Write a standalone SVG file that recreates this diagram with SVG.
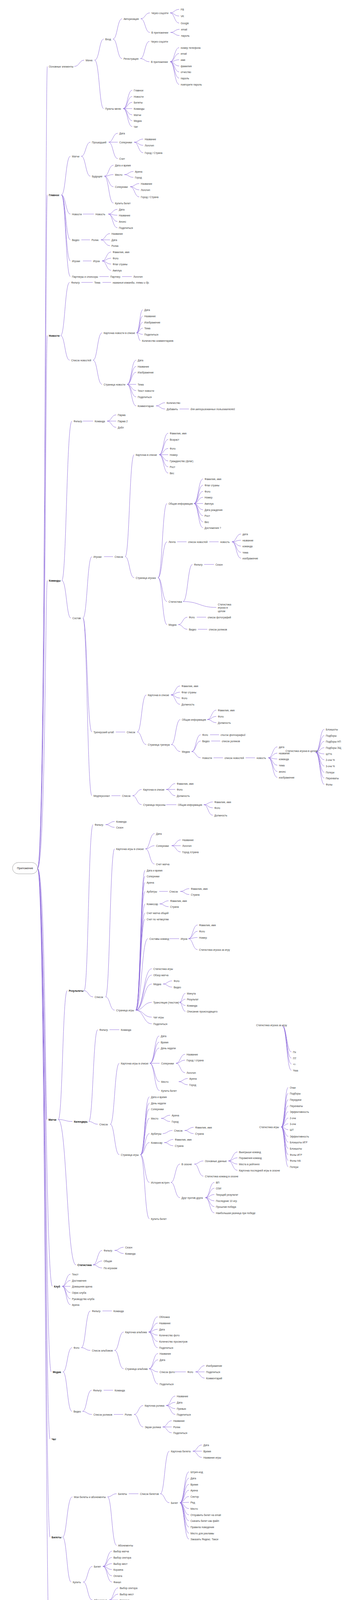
<svg xmlns="http://www.w3.org/2000/svg" width="900" height="4441" viewBox="0 0 900 4441">
<style>
text{font-family:"Liberation Sans",Arial,sans-serif;font-size:6.5px;fill:#3a3a3a;dominant-baseline:central}
.b{font-weight:bold;fill:#111}
.i{font-style:italic}
.r{font-size:7px;fill:#222}
#connectors path{fill:none;stroke:#8c69db;stroke-width:0.9}
.root{fill:#fff;stroke:#8a8a8a;stroke-width:0.8}
</style>
<rect width="900" height="4441" fill="#fff"/>
<g id="connectors">
<path d="M96 2223C116 2223 116 170 121 170"/><path d="M96 2223C116 2223 116 499 121 499"/><path d="M96 2223C116 2223 116 859 121 859"/><path d="M96 2223C116 2223 116 1486 121 1486"/><path d="M96 2223C116 2223 116 2866 120 2866"/><path d="M96 2223C116 2223 116 3293 134 3293"/><path d="M96 2223C116 2223 116 3512 131 3512"/><path d="M96 2223C116 2223 116 3684 128 3684"/><path d="M96 2223C116 2223 116 3935 128 3935"/><path d="M96 2223C116 2223 116 4260 128 4260"/>
<path d="M190 170C203 170 203 154 215 154"/>
<path d="M242 154C254 154 254 100 265 100"/><path d="M242 154C254 154 254 278 265 278"/>
<path d="M289 100C300 100 300 48 312 48"/><path d="M289 100C300 100 300 150 312 150"/>
<path d="M360 48C371 48 371 33 383 33"/><path d="M360 48C371 48 371 83 383 83"/>
<path d="M435 33C446 33 446 24 458 24"/><path d="M435 33C446 33 446 41 458 41"/><path d="M435 33C446 33 446 59 458 59"/>
<path d="M436 83C447 83 447 75 459 75"/><path d="M436 83C447 83 447 91 459 91"/>
<path d="M359 150C370 150 370 106 382 106"/><path d="M359 150C370 150 370 158 382 158"/>
<path d="M435 158C446 158 446 122 458 122"/><path d="M435 158C446 158 446 137 458 137"/><path d="M435 158C446 158 446 153 458 153"/><path d="M435 158C446 158 446 169 458 169"/><path d="M435 158C446 158 446 184 458 184"/><path d="M435 158C446 158 446 200 458 200"/><path d="M435 158C446 158 446 216 458 216"/>
<path d="M315 278C326 278 326 231 338 231"/><path d="M315 278C326 278 326 247 338 247"/><path d="M315 278C326 278 326 262 338 262"/><path d="M315 278C326 278 326 278 338 278"/><path d="M315 278C326 278 326 294 338 294"/><path d="M315 278C326 278 326 309 338 309"/><path d="M315 278C326 278 326 324 338 324"/>
<path d="M157 499C168 499 168 400 180 400"/><path d="M157 499C168 499 168 548 180 548"/><path d="M157 499C168 499 168 614 180 614"/><path d="M157 499C168 499 168 668 180 668"/><path d="M157 499C168 499 168 708 180 708"/>
<path d="M208 400C219 400 219 364 231 364"/><path d="M208 400C219 400 219 451 231 451"/>
<path d="M278 364C289 364 289 341 301 341"/><path d="M278 364C289 364 289 364 301 364"/><path d="M278 364C289 364 289 406 301 406"/>
<path d="M343 364C354 364 354 356 366 356"/><path d="M343 364C354 364 354 372 366 372"/><path d="M343 364C354 364 354 391 366 391"/>
<path d="M267 451C278 451 278 423 290 423"/><path d="M267 451C278 451 278 447 290 447"/><path d="M267 451C278 451 278 478 290 478"/><path d="M267 451C278 451 278 520 290 520"/>
<path d="M318 447C329 447 329 439 341 439"/><path d="M318 447C329 447 329 454 341 454"/>
<path d="M333 478C344 478 344 470 356 470"/><path d="M333 478C344 478 344 486 356 486"/><path d="M333 478C344 478 344 504 356 504"/>
<path d="M212 548H240"/>
<path d="M277 548C288 548 288 536 300 536"/><path d="M277 548C288 548 288 551 300 551"/><path d="M277 548C288 548 288 567 300 567"/><path d="M277 548C288 548 288 583 300 583"/>
<path d="M208 614H230"/>
<path d="M258 614C269 614 269 598 281 598"/><path d="M258 614C269 614 269 614 281 614"/><path d="M258 614C269 614 269 629 281 629"/>
<path d="M212 668H234"/>
<path d="M261 668C272 668 272 645 284 645"/><path d="M261 668C272 668 272 661 284 661"/><path d="M261 668C272 668 272 676 284 676"/><path d="M261 668C272 668 272 692 284 692"/>
<path d="M254 708H278"/><path d="M312 708H337"/>
<path d="M155 859C166 859 166 723 178 723"/><path d="M155 859C166 859 166 922 178 922"/>
<path d="M208 723H237"/><path d="M262 723H284"/>
<path d="M238 922C249 922 249 852 261 852"/><path d="M238 922C249 922 249 984 261 984"/>
<path d="M349 852C357 852 357 793 365 793"/><path d="M349 852C357 852 357 809 365 809"/><path d="M349 852C357 852 357 825 365 825"/><path d="M349 852C357 852 357 840 365 840"/><path d="M349 852C357 852 357 856 365 856"/><path d="M349 852C354 852 354 872 359 872"/>
<path d="M325 984C336 984 336 922 348 922"/><path d="M325 984C336 984 336 938 348 938"/><path d="M325 984C336 984 336 953 348 953"/><path d="M325 984C336 984 336 984 348 984"/><path d="M325 984C336 984 336 1000 348 1000"/><path d="M325 984C336 984 336 1016 348 1016"/><path d="M325 984C336 984 336 1039 348 1039"/>
<path d="M399 1039C410 1039 410 1031 422 1031"/><path d="M399 1039C410 1039 410 1047 422 1047"/>
<path d="M459 1047H483"/>
<path d="M158 1486C170 1486 170 1078 184 1078"/><path d="M158 1486C170 1486 170 1582 181 1582"/>
<path d="M212 1078H238"/>
<path d="M274 1078C285 1078 285 1062 297 1062"/><path d="M274 1078C285 1078 285 1078 297 1078"/><path d="M274 1078C285 1078 285 1094 297 1094"/>
<path d="M212 1582C223 1582 223 1425 235 1425"/><path d="M212 1582C223 1582 223 1874 235 1874"/><path d="M212 1582C223 1582 223 2037 235 2037"/>
<path d="M266 1425H289"/>
<path d="M320 1425C331 1425 331 1164 343 1164"/><path d="M320 1425C331 1425 331 1479 343 1479"/>
<path d="M407 1164C418 1164 418 1109 430 1109"/><path d="M407 1164C418 1164 418 1125 430 1125"/><path d="M407 1164C418 1164 418 1148 430 1148"/><path d="M407 1164C418 1164 418 1164 430 1164"/><path d="M407 1164C418 1164 418 1180 430 1180"/><path d="M407 1164C418 1164 418 1195 430 1195"/><path d="M407 1164C418 1164 418 1211 430 1211"/>
<path d="M404 1479C415 1479 415 1289 427 1289"/><path d="M404 1479C415 1479 415 1387 427 1387"/><path d="M404 1479C415 1479 415 1540 427 1540"/><path d="M404 1479C415 1479 415 1599 427 1599"/>
<path d="M496 1289C507 1289 507 1226 519 1226"/><path d="M496 1289C507 1289 507 1242 519 1242"/><path d="M496 1289C507 1289 507 1258 519 1258"/><path d="M496 1289C507 1289 507 1273 519 1273"/><path d="M496 1289C507 1289 507 1289 519 1289"/><path d="M496 1289C507 1289 507 1305 519 1305"/><path d="M496 1289C507 1289 507 1320 519 1320"/><path d="M496 1289C507 1289 507 1336 519 1336"/><path d="M496 1289C507 1289 507 1351 519 1351"/>
<path d="M453 1387H477"/><path d="M535 1387H559"/>
<path d="M593 1387C604 1387 604 1367 616 1367"/><path d="M593 1387C604 1387 604 1383 616 1383"/><path d="M593 1387C604 1387 604 1398 616 1398"/><path d="M593 1387C604 1387 604 1414 616 1414"/><path d="M593 1387C604 1387 604 1429 616 1429"/>
<path d="M468 1540C480 1540 480 1445 492 1445"/><path d="M468 1540C510 1540 510 1555 553 1555"/>
<path d="M522 1445H547"/>
<path d="M456 1599C467 1599 467 1580 479 1580"/><path d="M456 1599C467 1599 467 1611 479 1611"/>
<path d="M503 1580H527"/><path d="M506 1611H530"/>
<path d="M296 1874H320"/>
<path d="M351 1874C362 1874 362 1779 374 1779"/><path d="M351 1874C362 1874 362 1906 374 1906"/>
<path d="M437 1779C448 1779 448 1756 460 1756"/><path d="M437 1779C448 1779 448 1772 460 1772"/><path d="M437 1779C448 1779 448 1787 460 1787"/><path d="M437 1779C448 1779 448 1803 460 1803"/>
<path d="M438 1906C449 1906 449 1842 461 1842"/><path d="M438 1906C449 1906 449 1924 461 1924"/>
<path d="M530 1842C541 1842 541 1818 553 1818"/><path d="M530 1842C541 1842 541 1834 553 1834"/><path d="M530 1842C541 1842 541 1850 553 1850"/>
<path d="M490 1924C501 1924 501 1881 513 1881"/><path d="M490 1924C501 1924 501 1897 513 1897"/><path d="M490 1924C501 1924 501 1940 513 1940"/>
<path d="M537 1881H560"/><path d="M540 1897H563"/><path d="M546 1940H570"/><path d="M628 1940H652"/>
<path d="M686 1940C697 1940 697 1912 709 1912"/><path d="M686 1940C697 1940 697 1928 709 1928"/><path d="M686 1940C697 1940 697 1943 709 1943"/><path d="M686 1940C697 1940 697 1959 709 1959"/><path d="M686 1940C697 1940 697 1975 709 1975"/><path d="M686 1940C697 1940 697 1990 709 1990"/>
<path d="M807 1926C818 1926 818 1867 829 1867"/><path d="M807 1926C818 1926 818 1883 829 1883"/><path d="M807 1926C818 1926 818 1898 829 1898"/><path d="M807 1926C818 1926 818 1914 829 1914"/><path d="M807 1926C818 1926 818 1930 829 1930"/><path d="M807 1926C818 1926 818 1945 829 1945"/><path d="M807 1926C818 1926 818 1961 829 1961"/><path d="M807 1926C818 1926 818 1977 829 1977"/><path d="M807 1926C818 1926 818 1992 829 1992"/><path d="M807 1926C818 1926 818 2008 829 2008"/>
<path d="M285 2037H308"/>
<path d="M339 2037C350 2037 350 2021 362 2021"/><path d="M339 2037C350 2037 350 2060 362 2060"/>
<path d="M425 2021C436 2021 436 2006 448 2006"/><path d="M425 2021C436 2021 436 2021 448 2021"/><path d="M425 2021C436 2021 436 2037 448 2037"/>
<path d="M425 2060H451"/>
<path d="M521 2060C532 2060 532 2053 544 2053"/><path d="M521 2060C532 2060 532 2068 544 2068"/><path d="M521 2060C532 2060 532 2087 544 2087"/>
<path d="M149 2866C160 2866 160 2536 172 2536"/><path d="M149 2866C167 2866 167 2871 185 2871"/><path d="M149 2866C171 2866 171 3238 194 3238"/>
<path d="M215 2536C226 2536 226 2111 238 2111"/><path d="M215 2536C226 2536 226 2552 238 2552"/>
<path d="M270 2111C281 2111 281 2103 293 2103"/><path d="M270 2111C281 2111 281 2118 293 2118"/>
<path d="M270 2552C281 2552 281 2173 293 2173"/><path d="M270 2552C281 2552 281 2586 293 2586"/>
<path d="M372 2173C383 2173 383 2134 395 2134"/><path d="M372 2173C383 2173 383 2165 395 2165"/><path d="M372 2173C383 2173 383 2212 395 2212"/>
<path d="M439 2165C450 2165 450 2150 462 2150"/><path d="M439 2165C450 2165 450 2165 462 2165"/><path d="M439 2165C450 2165 450 2181 462 2181"/>
<path d="M347 2586C359 2586 359 2228 371 2228"/><path d="M347 2586C359 2586 359 2243 371 2243"/><path d="M347 2586C359 2586 359 2259 371 2259"/><path d="M347 2586C359 2586 359 2282 371 2282"/><path d="M347 2586C359 2586 359 2314 371 2314"/><path d="M347 2586C359 2586 359 2337 371 2337"/><path d="M347 2586C359 2586 359 2353 371 2353"/><path d="M347 2586C362 2586 362 2403 378 2403"/><path d="M347 2586C367 2586 367 2480 388 2480"/><path d="M347 2586C367 2586 367 2496 388 2496"/><path d="M347 2586C367 2586 367 2519 388 2519"/><path d="M347 2586C367 2586 367 2566 388 2566"/><path d="M347 2586C367 2586 367 2604 388 2604"/><path d="M347 2586C367 2586 367 2621 388 2621"/>
<path d="M407 2282H429"/>
<path d="M461 2282C472 2282 472 2275 484 2275"/><path d="M461 2282C472 2282 472 2290 484 2290"/>
<path d="M408 2314C419 2314 419 2306 431 2306"/><path d="M408 2314C419 2314 419 2321 431 2321"/>
<path d="M433 2403H458"/>
<path d="M482 2403C493 2403 493 2368 505 2368"/><path d="M482 2403C493 2403 493 2384 505 2384"/><path d="M482 2403C493 2403 493 2400 505 2400"/><path d="M482 2403C493 2403 493 2431 505 2431"/>
<path d="M417 2519C428 2519 428 2511 440 2511"/><path d="M417 2519C428 2519 428 2527 440 2527"/>
<path d="M459 2566C466 2566 466 2543 474 2543"/><path d="M459 2566C466 2566 466 2558 474 2558"/><path d="M459 2566C466 2566 466 2574 474 2574"/><path d="M459 2566C466 2566 466 2589 474 2589"/>
<path d="M722 2626C733 2626 733 2693 745 2693"/><path d="M722 2626C733 2626 733 2709 745 2709"/><path d="M722 2626C733 2626 733 2724 745 2724"/><path d="M722 2626C733 2626 733 2740 745 2740"/>
<path d="M719 2885C728 2885 728 2784 737 2784"/><path d="M719 2885C728 2885 728 2799 737 2799"/><path d="M719 2885C728 2885 728 2815 737 2815"/><path d="M719 2885C728 2885 728 2831 737 2831"/><path d="M719 2885C728 2885 728 2846 737 2846"/><path d="M719 2885C728 2885 728 2862 737 2862"/><path d="M719 2885C728 2885 728 2877 737 2877"/><path d="M719 2885C728 2885 728 2892 737 2892"/><path d="M719 2885C728 2885 728 2909 737 2909"/><path d="M719 2885C728 2885 728 2924 737 2924"/><path d="M719 2885C728 2885 728 2940 737 2940"/><path d="M719 2885C728 2885 728 2956 737 2956"/><path d="M719 2885C728 2885 728 2971 737 2971"/><path d="M719 2885C728 2885 728 2987 737 2987"/>
<path d="M227 2871C238 2871 238 2636 250 2636"/><path d="M227 2871C238 2871 238 2878 250 2878"/>
<path d="M280 2636H305"/>
<path d="M282 2878C293 2878 293 2722 305 2722"/><path d="M282 2878C293 2878 293 2956 305 2956"/>
<path d="M383 2722C395 2722 395 2652 407 2652"/><path d="M383 2722C395 2722 395 2668 407 2668"/><path d="M383 2722C395 2722 395 2683 407 2683"/><path d="M383 2722C395 2722 395 2722 408 2722"/><path d="M383 2722C395 2722 395 2769 408 2769"/><path d="M383 2722C395 2722 395 2792 408 2792"/>
<path d="M450 2722C461 2722 461 2699 473 2699"/><path d="M450 2722C461 2722 461 2714 473 2714"/><path d="M450 2722C461 2722 461 2746 473 2746"/>
<path d="M457 2769C468 2769 468 2761 480 2761"/><path d="M457 2769C468 2769 468 2777 480 2777"/>
<path d="M359 2956C370 2956 370 2808 382 2808"/><path d="M359 2956C370 2956 370 2824 382 2824"/><path d="M359 2956C370 2956 370 2839 382 2839"/><path d="M359 2956C370 2956 370 2863 382 2863"/><path d="M359 2956C370 2956 370 2902 382 2902"/><path d="M359 2956C370 2956 370 2925 382 2925"/><path d="M359 2956C370 2956 370 3027 382 3027"/><path d="M359 2956C370 2956 370 3120 382 3120"/>
<path d="M412 2863C423 2863 423 2855 435 2855"/><path d="M412 2863C423 2863 423 2871 435 2871"/>
<path d="M416 2902C428 2902 428 2894 441 2894"/>
<path d="M472 2894C483 2894 483 2886 495 2886"/><path d="M472 2894C483 2894 483 2902 495 2902"/>
<path d="M420 2925C431 2925 431 2917 443 2917"/><path d="M420 2925C431 2925 431 2933 443 2933"/>
<path d="M437 3027C448 3027 448 2980 460 2980"/><path d="M437 3027C448 3027 448 3066 460 3066"/>
<path d="M497 2980C508 2980 508 2972 520 2972"/><path d="M497 2980C508 2980 508 3011 520 3011"/>
<path d="M584 2972C595 2972 595 2949 607 2949"/><path d="M584 2972C595 2972 595 2964 607 2964"/><path d="M584 2972C595 2972 595 2980 607 2980"/><path d="M584 2972C595 2972 595 2996 607 2996"/>
<path d="M525 3066C536 3066 536 3027 548 3027"/><path d="M525 3066C536 3066 536 3042 548 3042"/><path d="M525 3066C536 3066 536 3058 548 3058"/><path d="M525 3066C536 3066 536 3074 548 3074"/><path d="M525 3066C536 3066 536 3089 548 3089"/><path d="M525 3066C536 3066 536 3105 548 3105"/>
<path d="M238 3238C249 3238 249 3201 261 3201"/><path d="M238 3238C249 3238 249 3228 261 3228"/><path d="M238 3238C249 3238 249 3246 261 3246"/>
<path d="M293 3201C304 3201 304 3193 316 3193"/><path d="M293 3201C304 3201 304 3209 316 3209"/>
<path d="M159 3293C169 3293 169 3262 180 3262"/><path d="M159 3293C169 3293 169 3278 180 3278"/><path d="M159 3293C169 3293 169 3293 180 3293"/><path d="M159 3293C169 3293 169 3309 180 3309"/><path d="M159 3293C169 3293 169 3325 180 3325"/><path d="M159 3293C169 3293 169 3340 180 3340"/>
<path d="M161 3512C172 3512 172 3450 184 3450"/><path d="M161 3512C172 3512 172 3613 184 3613"/>
<path d="M208 3450C219 3450 219 3356 231 3356"/><path d="M208 3450C219 3450 219 3457 231 3457"/>
<path d="M262 3356H286"/>
<path d="M293 3457C304 3457 304 3410 316 3410"/><path d="M293 3457C304 3457 304 3504 316 3504"/>
<path d="M380 3410C391 3410 391 3371 403 3371"/><path d="M380 3410C391 3410 391 3387 403 3387"/><path d="M380 3410C391 3410 391 3403 403 3403"/><path d="M380 3410C391 3410 391 3418 403 3418"/><path d="M380 3410C391 3410 391 3434 403 3434"/><path d="M380 3410C391 3410 391 3450 403 3450"/>
<path d="M381 3504C392 3504 392 3465 404 3465"/><path d="M381 3504C392 3504 392 3481 404 3481"/><path d="M381 3504C392 3504 392 3512 404 3512"/><path d="M381 3504C392 3504 392 3543 404 3543"/>
<path d="M447 3512H475"/>
<path d="M500 3512C511 3512 511 3496 523 3496"/><path d="M500 3512C511 3512 511 3512 523 3512"/><path d="M500 3512C511 3512 511 3528 523 3528"/>
<path d="M211 3613C222 3613 222 3559 234 3559"/><path d="M211 3613C222 3613 222 3621 235 3621"/>
<path d="M265 3559H289"/><path d="M291 3621H315"/>
<path d="M343 3621C354 3621 354 3598 366 3598"/><path d="M343 3621C354 3621 354 3653 366 3653"/>
<path d="M425 3598C436 3598 436 3574 448 3574"/><path d="M425 3598C436 3598 436 3590 448 3590"/><path d="M425 3598C436 3598 436 3606 448 3606"/><path d="M425 3598C436 3598 436 3621 448 3621"/>
<path d="M416 3653C427 3653 427 3637 439 3637"/><path d="M416 3653C427 3653 427 3653 439 3653"/><path d="M416 3653C427 3653 427 3668 439 3668"/>
<path d="M160 3935C171 3935 171 3832 185 3832"/><path d="M160 3935C171 3935 171 4050 182 4050"/>
<path d="M275 3832C286 3832 286 3824 298 3824"/><path d="M275 3832C286 3832 286 3956 298 3956"/>
<path d="M329 3824H354"/>
<path d="M410 3824C421 3824 421 3715 433 3715"/><path d="M410 3824C421 3824 421 3847 433 3847"/>
<path d="M493 3715C504 3715 504 3699 516 3699"/><path d="M493 3715C504 3715 504 3715 516 3715"/><path d="M493 3715C504 3715 504 3731 516 3731"/>
<path d="M460 3847C471 3847 471 3768 483 3768"/><path d="M460 3847C471 3847 471 3784 483 3784"/><path d="M460 3847C471 3847 471 3800 483 3800"/><path d="M460 3847C471 3847 471 3815 483 3815"/><path d="M460 3847C471 3847 471 3831 483 3831"/><path d="M460 3847C471 3847 471 3846 483 3846"/><path d="M460 3847C471 3847 471 3862 483 3862"/><path d="M460 3847C471 3847 471 3878 483 3878"/><path d="M460 3847C471 3847 471 3893 483 3893"/><path d="M460 3847C471 3847 471 3909 483 3909"/><path d="M460 3847C471 3847 471 3925 483 3925"/><path d="M460 3847C471 3847 471 3940 483 3940"/>
<path d="M213 4050C224 4050 224 4010 236 4010"/><path d="M213 4050C224 4050 224 4096 236 4096"/>
<path d="M263 4010C274 4010 274 3971 286 3971"/><path d="M263 4010C274 4010 274 3987 286 3987"/><path d="M263 4010C274 4010 274 4003 286 4003"/><path d="M263 4010C274 4010 274 4018 286 4018"/><path d="M263 4010C274 4010 274 4034 286 4034"/><path d="M263 4010C274 4010 274 4050 286 4050"/>
<path d="M279 4096C290 4096 290 4065 302 4065"/><path d="M279 4096C290 4096 290 4081 302 4081"/><path d="M279 4096C290 4096 290 4096 302 4096"/><path d="M279 4096C290 4096 290 4112 302 4112"/><path d="M279 4096C290 4096 290 4128 302 4128"/>
<path d="M169 4260C180 4260 180 4190 192 4190"/><path d="M169 4260C180 4260 180 4315 192 4315"/>
<path d="M242 4190C253 4190 253 4143 265 4143"/><path d="M242 4190C253 4190 253 4159 265 4159"/><path d="M242 4190C253 4190 253 4174 265 4174"/><path d="M242 4190C253 4190 253 4190 265 4190"/><path d="M242 4190C253 4190 253 4206 265 4206"/><path d="M242 4190C253 4190 253 4221 265 4221"/><path d="M242 4190C253 4190 253 4237 265 4237"/>
<path d="M229 4315C240 4315 240 4253 252 4253"/><path d="M229 4315C240 4315 240 4268 252 4268"/><path d="M229 4315C240 4315 240 4284 252 4284"/><path d="M229 4315C240 4315 240 4299 252 4299"/><path d="M229 4315C240 4315 240 4315 252 4315"/><path d="M229 4315C240 4315 240 4331 252 4331"/><path d="M229 4315C240 4315 240 4354 252 4354"/><path d="M229 4315C240 4315 240 4377 252 4377"/>
<path d="M273 4354C284 4354 284 4346 296 4346"/><path d="M273 4354C284 4354 284 4362 296 4362"/>
</g>
<g id="n-root"><rect class="root" x="32" y="2208" width="64" height="29" rx="14.5"/><text class="r" x="64" y="2222.5" text-anchor="middle">Приложение</text></g>
<g id="n1"><text x="125" y="170">Основные элементы</text></g>
<g id="n1-1"><text x="219" y="154">Меню</text></g>
<g id="n1-2"><text x="269" y="100">Вход</text></g>
<g id="n1-3"><text x="316" y="48">Авторизация</text></g>
<g id="n1-4"><text x="387" y="33">Через соцсети</text></g>
<g id="n1-5"><text x="462" y="24">FB</text></g>
<g id="n1-6"><text x="462" y="41">VK</text></g>
<g id="n1-7"><text x="462" y="59">Google</text></g>
<g id="n1-8"><text x="387" y="83">В приложении</text></g>
<g id="n1-9"><text x="463" y="75">email</text></g>
<g id="n1-10"><text x="463" y="91">пароль</text></g>
<g id="n1-11"><text x="316" y="150">Регистрация</text></g>
<g id="n1-12"><text x="386" y="106">Через соцсети</text></g>
<g id="n1-13"><text x="386" y="158">В приложении</text></g>
<g id="n1-14"><text x="462" y="122">номер телефона</text></g>
<g id="n1-15"><text x="462" y="137">email</text></g>
<g id="n1-16"><text x="462" y="153">имя</text></g>
<g id="n1-17"><text x="462" y="169">фамилия</text></g>
<g id="n1-18"><text x="462" y="184">отчество</text></g>
<g id="n1-19"><text x="462" y="200">пароль</text></g>
<g id="n1-20"><text x="462" y="216">повторите пароль</text></g>
<g id="n1-21"><text x="269" y="278">Пункты меню</text></g>
<g id="n1-22"><text x="342" y="231">Главное</text></g>
<g id="n1-23"><text x="342" y="247">Новости</text></g>
<g id="n1-24"><text x="342" y="262">Билеты</text></g>
<g id="n1-25"><text x="342" y="278">Команды</text></g>
<g id="n1-26"><text x="342" y="294">Матчи</text></g>
<g id="n1-27"><text x="342" y="309">Медиа</text></g>
<g id="n1-28"><text x="342" y="324">Чат</text></g>
<g id="n2"><text class="b" x="125" y="499">Главное</text></g>
<g id="n2-1"><text x="184" y="400">Матчи</text></g>
<g id="n2-2"><text x="235" y="364">Прошедший</text></g>
<g id="n2-3"><text x="305" y="341">Дата</text></g>
<g id="n2-4"><text x="305" y="364">Соперники</text></g>
<g id="n2-5"><text x="370" y="356">Название</text></g>
<g id="n2-6"><text x="370" y="372">Логотип</text></g>
<g id="n2-7"><text x="370" y="391">Город / Страна</text></g>
<g id="n2-8"><text x="305" y="406">Счет</text></g>
<g id="n2-9"><text x="235" y="451">Будущие</text></g>
<g id="n2-10"><text x="294" y="423">Дата и время</text></g>
<g id="n2-11"><text x="294" y="447">Место</text></g>
<g id="n2-12"><text x="345" y="439">Арена</text></g>
<g id="n2-13"><text x="345" y="454">Город</text></g>
<g id="n2-14"><text x="294" y="478">Соперники</text></g>
<g id="n2-15"><text x="360" y="470">Название</text></g>
<g id="n2-16"><text x="360" y="486">Логотип</text></g>
<g id="n2-17"><text x="360" y="504">Город / Страна</text></g>
<g id="n2-18"><text x="294" y="520">Купить билет</text></g>
<g id="n2-19"><text x="184" y="548">Новости</text></g>
<g id="n2-20"><text x="244" y="548">Новость</text></g>
<g id="n2-21"><text x="304" y="536">Дата</text></g>
<g id="n2-22"><text x="304" y="551">Название</text></g>
<g id="n2-23"><text x="304" y="567">Анонс</text></g>
<g id="n2-24"><text x="304" y="583">Поделиться</text></g>
<g id="n2-25"><text x="184" y="614">Видео</text></g>
<g id="n2-26"><text x="234" y="614">Ролик</text></g>
<g id="n2-27"><text x="285" y="598">Название</text></g>
<g id="n2-28"><text x="285" y="614">Дата</text></g>
<g id="n2-29"><text x="285" y="629">Ролик</text></g>
<g id="n2-30"><text x="184" y="668">Игроки</text></g>
<g id="n2-31"><text x="238" y="668">Игрок</text></g>
<g id="n2-32"><text x="288" y="645">Фамилия, имя</text></g>
<g id="n2-33"><text x="288" y="661">Фото</text></g>
<g id="n2-34"><text x="288" y="676">Флаг страны</text></g>
<g id="n2-35"><text x="288" y="692">Амплуа</text></g>
<g id="n2-36"><text x="184" y="708">Партнеры и спонсоры</text></g>
<g id="n2-37"><text x="282" y="708">Партнер</text></g>
<g id="n2-38"><text x="341" y="708">Логотип</text></g>
<g id="n3"><text class="b" x="125" y="859">Новости</text></g>
<g id="n3-1"><text x="182" y="723">Фильтр</text></g>
<g id="n3-2"><text x="241" y="723">Тема</text></g>
<g id="n3-3"><text class="i" x="288" y="723">названия команды, темы и др.</text></g>
<g id="n3-4"><text x="182" y="922">Список новостей</text></g>
<g id="n3-5"><text x="265" y="852">Карточка новости в списке</text></g>
<g id="n3-6"><text x="369" y="793">Дата</text></g>
<g id="n3-7"><text x="369" y="809">Название</text></g>
<g id="n3-8"><text x="369" y="825">Изображение</text></g>
<g id="n3-9"><text x="369" y="840">Тема</text></g>
<g id="n3-10"><text x="369" y="856">Поделиться</text></g>
<g id="n3-11"><text x="363" y="872">Количество комментариев</text></g>
<g id="n3-12"><text x="265" y="984">Страница новости</text></g>
<g id="n3-13"><text x="352" y="922">Дата</text></g>
<g id="n3-14"><text x="352" y="938">Название</text></g>
<g id="n3-15"><text x="352" y="953">Изображение</text></g>
<g id="n3-16"><text x="352" y="984">Тема</text></g>
<g id="n3-17"><text x="352" y="1000">Текст новости</text></g>
<g id="n3-18"><text x="352" y="1016">Поделиться</text></g>
<g id="n3-19"><text x="352" y="1039">Комментарии</text></g>
<g id="n3-20"><text x="426" y="1031">Количество</text></g>
<g id="n3-21"><text x="426" y="1047">Добавить</text></g>
<g id="n3-22"><text class="i" x="487" y="1047">для авторизованных пользователей</text></g>
<g id="n4"><text class="b" x="125" y="1486">Команды</text></g>
<g id="n4-1"><text x="188" y="1078">Фильтр</text></g>
<g id="n4-2"><text x="242" y="1078">Команда</text></g>
<g id="n4-3"><text x="301" y="1062">Парма</text></g>
<g id="n4-4"><text x="301" y="1078">Парма 2</text></g>
<g id="n4-5"><text x="301" y="1094">Добл</text></g>
<g id="n4-6"><text x="185" y="1582">Состав</text></g>
<g id="n4-7"><text x="239" y="1425">Игроки</text></g>
<g id="n4-8"><text x="293" y="1425">Список</text></g>
<g id="n4-9"><text x="347" y="1164">Карточка в списке</text></g>
<g id="n4-10"><text x="434" y="1109">Фамилия, имя</text></g>
<g id="n4-11"><text x="434" y="1125">Возраст</text></g>
<g id="n4-12"><text x="434" y="1148">Фото</text></g>
<g id="n4-13"><text x="434" y="1164">Номер</text></g>
<g id="n4-14"><text x="434" y="1180">Гражданство (флаг)</text></g>
<g id="n4-15"><text x="434" y="1195">Рост</text></g>
<g id="n4-16"><text x="434" y="1211">Вес</text></g>
<g id="n4-17"><text x="347" y="1479">Страница игрока</text></g>
<g id="n4-18"><text x="431" y="1289">Общая информация</text></g>
<g id="n4-19"><text x="523" y="1226">Фамилия, имя</text></g>
<g id="n4-20"><text x="523" y="1242">Флаг страны</text></g>
<g id="n4-21"><text x="523" y="1258">Фото</text></g>
<g id="n4-22"><text x="523" y="1273">Номер</text></g>
<g id="n4-23"><text x="523" y="1289">Амплуа</text></g>
<g id="n4-24"><text x="523" y="1305">Дата рождения</text></g>
<g id="n4-25"><text x="523" y="1320">Рост</text></g>
<g id="n4-26"><text x="523" y="1336">Вес</text></g>
<g id="n4-27"><text x="523" y="1351">Достижения ?</text></g>
<g id="n4-28"><text x="431" y="1387">Лента</text></g>
<g id="n4-29"><text x="481" y="1387">список новостей</text></g>
<g id="n4-30"><text x="563" y="1387">новость</text></g>
<g id="n4-31"><text x="620" y="1367">дата</text></g>
<g id="n4-32"><text x="620" y="1383">название</text></g>
<g id="n4-33"><text x="620" y="1398">команда</text></g>
<g id="n4-34"><text x="620" y="1414">тема</text></g>
<g id="n4-35"><text x="620" y="1429">изображение</text></g>
<g id="n4-36"><text x="431" y="1540">Статистика</text></g>
<g id="n4-37"><text x="496" y="1445">Фильтр</text></g>
<g id="n4-38"><text x="551" y="1445">Сезон</text></g>
<g id="n4-39"><text x="557" y="1547">Статистика</text><text x="557" y="1555.5">игрока в</text><text x="557" y="1564">целом</text></g>
<g id="n4-40"><text x="431" y="1599">Медиа</text></g>
<g id="n4-41"><text x="483" y="1580">Фото</text></g>
<g id="n4-42"><text x="531" y="1580">список фотографий</text></g>
<g id="n4-43"><text x="483" y="1611">Видео</text></g>
<g id="n4-44"><text x="534" y="1611">список роликов</text></g>
<g id="n4-45"><text x="239" y="1874">Тренерский штаб</text></g>
<g id="n4-46"><text x="324" y="1874">Список</text></g>
<g id="n4-47"><text x="378" y="1779">Карточка в списке</text></g>
<g id="n4-48"><text x="464" y="1756">Фамилия, имя</text></g>
<g id="n4-49"><text x="464" y="1772">Флаг страны</text></g>
<g id="n4-50"><text x="464" y="1787">Фото</text></g>
<g id="n4-51"><text x="464" y="1803">Должность</text></g>
<g id="n4-52"><text x="378" y="1906">Страница тренера</text></g>
<g id="n4-53"><text x="465" y="1842">Общая информация</text></g>
<g id="n4-54"><text x="557" y="1818">Фамилия, имя</text></g>
<g id="n4-55"><text x="557" y="1834">Фото</text></g>
<g id="n4-56"><text x="557" y="1850">Должность</text></g>
<g id="n4-57"><text x="465" y="1924">Медиа</text></g>
<g id="n4-58"><text x="517" y="1881">Фото</text></g>
<g id="n4-59"><text class="i" x="564" y="1881">список фотографий</text></g>
<g id="n4-60"><text x="517" y="1897">Видео</text></g>
<g id="n4-61"><text x="567" y="1897">список роликов</text></g>
<g id="n4-62"><text x="517" y="1940">Новости</text></g>
<g id="n4-63"><text x="574" y="1940">список новостей</text></g>
<g id="n4-64"><text x="656" y="1940">новость</text></g>
<g id="n4-65"><text x="713" y="1912">дата</text></g>
<g id="n4-66"><text x="713" y="1928">название</text></g>
<g id="n4-67"><text x="713" y="1943">команда</text></g>
<g id="n4-68"><text x="713" y="1959">тема</text></g>
<g id="n4-69"><text x="713" y="1975">анонс</text></g>
<g id="n4-70"><text x="713" y="1990">изображение</text></g>
<g id="n4-71"><text x="730" y="1922">Статистика игрока в целом</text></g>
<g id="n4-72"><text x="833" y="1867">Блокшоты</text></g>
<g id="n4-73"><text x="833" y="1883">Подборы</text></g>
<g id="n4-74"><text x="833" y="1898">Подборы НП</text></g>
<g id="n4-75"><text x="833" y="1914">Подборы ЗЩ</text></g>
<g id="n4-76"><text x="833" y="1930">ШТ%</text></g>
<g id="n4-77"><text x="833" y="1945">2-очк %</text></g>
<g id="n4-78"><text x="833" y="1961">3-очк %</text></g>
<g id="n4-79"><text x="833" y="1977">Потери</text></g>
<g id="n4-80"><text x="833" y="1992">Перехваты</text></g>
<g id="n4-81"><text x="833" y="2008">Фолы</text></g>
<g id="n4-82"><text x="239" y="2037">Медперсонал</text></g>
<g id="n4-83"><text x="312" y="2037">Список</text></g>
<g id="n4-84"><text x="366" y="2021">Карточка в списке</text></g>
<g id="n4-85"><text x="452" y="2006">Фамилия, имя</text></g>
<g id="n4-86"><text x="452" y="2021">Фото</text></g>
<g id="n4-87"><text x="452" y="2037">Должность</text></g>
<g id="n4-88"><text x="366" y="2060">Страница персоны</text></g>
<g id="n4-89"><text x="455" y="2060">Общая информация</text></g>
<g id="n4-90"><text x="548" y="2053">Фамилия, имя</text></g>
<g id="n4-91"><text x="548" y="2068">Фото</text></g>
<g id="n4-92"><text x="548" y="2087">Должность</text></g>
<g id="n5"><text class="b" x="124" y="2866">Матчи</text></g>
<g id="n5-1"><text class="b" x="176" y="2536">Результаты</text></g>
<g id="n5-2"><text x="242" y="2111">Фильтр</text></g>
<g id="n5-3"><text x="297" y="2103">Команда</text></g>
<g id="n5-4"><text x="297" y="2118">Сезон</text></g>
<g id="n5-5"><text x="242" y="2552">Список</text></g>
<g id="n5-6"><text x="297" y="2173">Карточка игры в списке</text></g>
<g id="n5-7"><text x="399" y="2134">Дата</text></g>
<g id="n5-8"><text x="399" y="2165">Соперники</text></g>
<g id="n5-9"><text x="466" y="2150">Название</text></g>
<g id="n5-10"><text x="466" y="2165">Логотип</text></g>
<g id="n5-11"><text x="466" y="2181">Город /страна</text></g>
<g id="n5-12"><text x="399" y="2212">Счет матча</text></g>
<g id="n5-13"><text x="297" y="2586">Страница игры</text></g>
<g id="n5-14"><text x="375" y="2228">Дата и время</text></g>
<g id="n5-15"><text x="375" y="2243">Соперники</text></g>
<g id="n5-16"><text x="375" y="2259">Арена</text></g>
<g id="n5-17"><text x="375" y="2282">Арбитры</text></g>
<g id="n5-18"><text x="433" y="2282">Список</text></g>
<g id="n5-19"><text x="488" y="2275">Фамилия, имя</text></g>
<g id="n5-20"><text x="488" y="2290">Страна</text></g>
<g id="n5-21"><text x="375" y="2314">Комиссар</text></g>
<g id="n5-22"><text x="435" y="2306">Фамилия, имя</text></g>
<g id="n5-23"><text x="435" y="2321">Страна</text></g>
<g id="n5-24"><text x="375" y="2337">Счет матча общий</text></g>
<g id="n5-25"><text x="375" y="2353">Счет по четвертям</text></g>
<g id="n5-26"><text x="382" y="2403">Составы команд</text></g>
<g id="n5-27"><text x="462" y="2403">Игрок</text></g>
<g id="n5-28"><text x="509" y="2368">Фамилия, имя</text></g>
<g id="n5-29"><text x="509" y="2384">Фото</text></g>
<g id="n5-30"><text x="509" y="2400">Номер</text></g>
<g id="n5-31"><text x="509" y="2431">Статистика игрока за игру</text></g>
<g id="n5-32"><text x="392" y="2480">Статистика игры</text></g>
<g id="n5-33"><text x="392" y="2496">Обзор матча</text></g>
<g id="n5-34"><text x="392" y="2519">Медиа</text></g>
<g id="n5-35"><text x="444" y="2511">Фото</text></g>
<g id="n5-36"><text x="444" y="2527">Видео</text></g>
<g id="n5-37"><text x="392" y="2566">Трансляция (текстом)</text></g>
<g id="n5-38"><text x="478" y="2543">Минута</text></g>
<g id="n5-39"><text x="478" y="2558">Результат</text></g>
<g id="n5-40"><text x="478" y="2574">Команда</text></g>
<g id="n5-41"><text x="478" y="2589">Описание происходящего</text></g>
<g id="n5-42"><text x="392" y="2604">Чат игры</text></g>
<g id="n5-43"><text x="392" y="2621">Поделиться</text></g>
<g id="n5-44"><text x="655" y="2624">Статистика игрока за игру</text></g>
<g id="n5-45"><text x="749" y="2693">Пх</text></g>
<g id="n5-46"><text x="749" y="2709">ПТ</text></g>
<g id="n5-47"><text x="749" y="2724">+/-</text></g>
<g id="n5-48"><text x="749" y="2740">%аа</text></g>
<g id="n5-49"><text class="b" x="189" y="2871">Календарь</text></g>
<g id="n5-50"><text x="254" y="2636">Фильтр</text></g>
<g id="n5-51"><text x="309" y="2636">Команда</text></g>
<g id="n5-52"><text x="254" y="2878">Список</text></g>
<g id="n5-53"><text x="309" y="2722">Карточка игры в списке</text></g>
<g id="n5-54"><text x="411" y="2652">Дата</text></g>
<g id="n5-55"><text x="411" y="2668">Время</text></g>
<g id="n5-56"><text x="411" y="2683">День недели</text></g>
<g id="n5-57"><text x="412" y="2722">Соперники</text></g>
<g id="n5-58"><text x="477" y="2699">Название</text></g>
<g id="n5-59"><text x="477" y="2714">Город / страна</text></g>
<g id="n5-60"><text x="477" y="2746">Логотип</text></g>
<g id="n5-61"><text x="412" y="2769">Место</text></g>
<g id="n5-62"><text x="484" y="2761">Арена</text></g>
<g id="n5-63"><text x="484" y="2777">Город</text></g>
<g id="n5-64"><text x="412" y="2792">Купить билет</text></g>
<g id="n5-65"><text x="309" y="2956">Страница игры</text></g>
<g id="n5-66"><text x="386" y="2808">Дата и время</text></g>
<g id="n5-67"><text x="386" y="2824">День недели</text></g>
<g id="n5-68"><text x="386" y="2839">Соперники</text></g>
<g id="n5-69"><text x="386" y="2863">Место</text></g>
<g id="n5-70"><text x="439" y="2855">Арена</text></g>
<g id="n5-71"><text x="439" y="2871">Город</text></g>
<g id="n5-72"><text x="386" y="2902">Арбитры</text></g>
<g id="n5-73"><text x="445" y="2894">Список</text></g>
<g id="n5-74"><text x="499" y="2886">Фамилия, имя</text></g>
<g id="n5-75"><text x="499" y="2902">Страна</text></g>
<g id="n5-76"><text x="386" y="2925">Комиссар</text></g>
<g id="n5-77"><text x="447" y="2917">Фамилия, имя</text></g>
<g id="n5-78"><text x="447" y="2933">Страна</text></g>
<g id="n5-79"><text x="386" y="3027">История встреч</text></g>
<g id="n5-80"><text x="464" y="2980">В сезоне</text></g>
<g id="n5-81"><text x="524" y="2972">Основные данные</text></g>
<g id="n5-82"><text x="611" y="2949">Выигрыши команд</text></g>
<g id="n5-83"><text x="611" y="2964">Поражения команд</text></g>
<g id="n5-84"><text x="611" y="2980">Места в рейтинге</text></g>
<g id="n5-85"><text x="611" y="2996">Карточка последней игры в сезоне</text></g>
<g id="n5-86"><text x="524" y="3011">Статистика команд в сезоне</text></g>
<g id="n5-87"><text x="464" y="3066">Друг против друга</text></g>
<g id="n5-88"><text x="552" y="3027">ВП</text></g>
<g id="n5-89"><text x="552" y="3042">ОЗИ</text></g>
<g id="n5-90"><text x="552" y="3058">Текущий результат</text></g>
<g id="n5-91"><text x="552" y="3074">Последние 10 игр</text></g>
<g id="n5-92"><text x="552" y="3089">Прошлая победа</text></g>
<g id="n5-93"><text x="552" y="3105">Наибольшая разница при победе</text></g>
<g id="n5-94"><text x="386" y="3120">Купить билет</text></g>
<g id="n5-95"><text x="663" y="2885">Статистика игры</text></g>
<g id="n5-96"><text x="741" y="2784">Очки</text></g>
<g id="n5-97"><text x="741" y="2799">Подборы</text></g>
<g id="n5-98"><text x="741" y="2815">Передачи</text></g>
<g id="n5-99"><text x="741" y="2831">Перехваты</text></g>
<g id="n5-100"><text x="741" y="2846">Эффективность</text></g>
<g id="n5-101"><text x="741" y="2862">2-очк</text></g>
<g id="n5-102"><text x="741" y="2877">3-очк</text></g>
<g id="n5-103"><text x="741" y="2892">ШТ</text></g>
<g id="n5-104"><text x="741" y="2909">Эффективность</text></g>
<g id="n5-105"><text x="741" y="2924">Блокшоты ИГР</text></g>
<g id="n5-106"><text x="741" y="2940">Блокшоты</text></g>
<g id="n5-107"><text x="741" y="2956">Фолы ИГР</text></g>
<g id="n5-108"><text x="741" y="2971">Фолы НА</text></g>
<g id="n5-109"><text x="741" y="2987">Потери</text></g>
<g id="n5-110"><text class="b" x="198" y="3238">Статистика</text></g>
<g id="n5-111"><text x="265" y="3201">Фильтр</text></g>
<g id="n5-112"><text x="320" y="3193">Сезон</text></g>
<g id="n5-113"><text x="320" y="3209">Команда</text></g>
<g id="n5-114"><text x="265" y="3228">Общая</text></g>
<g id="n5-115"><text x="265" y="3246">По игрокам</text></g>
<g id="n6"><text class="b" x="138" y="3293">Клуб</text></g>
<g id="n6-1"><text x="184" y="3262">Текст</text></g>
<g id="n6-2"><text x="184" y="3278">Достижения</text></g>
<g id="n6-3"><text x="184" y="3293">Домашняя арена</text></g>
<g id="n6-4"><text x="184" y="3309">Офис клуба</text></g>
<g id="n6-5"><text x="184" y="3325">Руководство клуба</text></g>
<g id="n6-6"><text x="184" y="3340">Арена</text></g>
<g id="n7"><text class="b" x="135" y="3512">Медиа</text></g>
<g id="n7-1"><text x="188" y="3450">Фото</text></g>
<g id="n7-2"><text x="235" y="3356">Фильтр</text></g>
<g id="n7-3"><text x="290" y="3356">Команда</text></g>
<g id="n7-4"><text x="235" y="3457">Список альбомов</text></g>
<g id="n7-5"><text x="320" y="3410">Карточка альбома</text></g>
<g id="n7-6"><text x="407" y="3371">Обложка</text></g>
<g id="n7-7"><text x="407" y="3387">Название</text></g>
<g id="n7-8"><text x="407" y="3403">Дата</text></g>
<g id="n7-9"><text x="407" y="3418">Количество фото</text></g>
<g id="n7-10"><text x="407" y="3434">Количество просмотров</text></g>
<g id="n7-11"><text x="407" y="3450">Поделиться</text></g>
<g id="n7-12"><text x="320" y="3504">Страница альбома</text></g>
<g id="n7-13"><text x="408" y="3465">Название</text></g>
<g id="n7-14"><text x="408" y="3481">Дата</text></g>
<g id="n7-15"><text x="408" y="3512">Список фото</text></g>
<g id="n7-16"><text x="479" y="3512">Фото</text></g>
<g id="n7-17"><text x="527" y="3496">Изображение</text></g>
<g id="n7-18"><text x="527" y="3512">Поделиться</text></g>
<g id="n7-19"><text x="527" y="3528">Комментарий</text></g>
<g id="n7-20"><text x="408" y="3543">Поделиться</text></g>
<g id="n7-21"><text x="188" y="3613">Видео</text></g>
<g id="n7-22"><text x="238" y="3559">Фильтр</text></g>
<g id="n7-23"><text x="293" y="3559">Команда</text></g>
<g id="n7-24"><text x="239" y="3621">Список роликов</text></g>
<g id="n7-25"><text x="319" y="3621">Ролик</text></g>
<g id="n7-26"><text x="370" y="3598">Карточка ролика</text></g>
<g id="n7-27"><text x="452" y="3574">Название</text></g>
<g id="n7-28"><text x="452" y="3590">Дата</text></g>
<g id="n7-29"><text x="452" y="3606">Превью</text></g>
<g id="n7-30"><text x="452" y="3621">Поделиться</text></g>
<g id="n7-31"><text x="370" y="3653">Экран ролика</text></g>
<g id="n7-32"><text x="443" y="3637">Название</text></g>
<g id="n7-33"><text x="443" y="3653">Ролик</text></g>
<g id="n7-34"><text x="443" y="3668">Поделиться</text></g>
<g id="n8"><text class="b" x="132" y="3684">Чат</text></g>
<g id="n9"><text class="b" x="132" y="3935">Билеты</text></g>
<g id="n9-1"><text x="189" y="3832">Мои билеты и абонементы</text></g>
<g id="n9-2"><text x="302" y="3824">Билеты</text></g>
<g id="n9-3"><text x="358" y="3824">Список билетов</text></g>
<g id="n9-4"><text x="437" y="3715">Карточка билета</text></g>
<g id="n9-5"><text x="520" y="3699">Дата</text></g>
<g id="n9-6"><text x="520" y="3715">Время</text></g>
<g id="n9-7"><text x="520" y="3731">Название игры</text></g>
<g id="n9-8"><text x="437" y="3847">Билет</text></g>
<g id="n9-9"><text x="487" y="3768">Штрих-код</text></g>
<g id="n9-10"><text x="487" y="3784">Дата</text></g>
<g id="n9-11"><text x="487" y="3800">Время</text></g>
<g id="n9-12"><text x="487" y="3815">Арена</text></g>
<g id="n9-13"><text x="487" y="3831">Сектор</text></g>
<g id="n9-14"><text x="487" y="3846">Ряд</text></g>
<g id="n9-15"><text x="487" y="3862">Место</text></g>
<g id="n9-16"><text x="487" y="3878">Отправить билет на email</text></g>
<g id="n9-17"><text x="487" y="3893">Скачать билет как файл</text></g>
<g id="n9-18"><text x="487" y="3909">Правила поведения</text></g>
<g id="n9-19"><text x="487" y="3925">Место для рекламы</text></g>
<g id="n9-20"><text x="487" y="3940">Заказать Яндекс. Такси</text></g>
<g id="n9-21"><text x="302" y="3956">Абонементы</text></g>
<g id="n9-22"><text x="186" y="4050">Купить</text></g>
<g id="n9-23"><text x="240" y="4010">Билет</text></g>
<g id="n9-24"><text x="290" y="3971">Выбор матча</text></g>
<g id="n9-25"><text x="290" y="3987">Выбор сектора</text></g>
<g id="n9-26"><text x="290" y="4003">Выбор мест</text></g>
<g id="n9-27"><text x="290" y="4018">Корзина</text></g>
<g id="n9-28"><text x="290" y="4034">Оплата</text></g>
<g id="n9-29"><text x="290" y="4050">Финал</text></g>
<g id="n9-30"><text x="240" y="4096">Абонемент</text></g>
<g id="n9-31"><text x="306" y="4065">Выбор сектора</text></g>
<g id="n9-32"><text x="306" y="4081">Выбор мест</text></g>
<g id="n9-33"><text x="306" y="4096">Корзина</text></g>
<g id="n9-34"><text x="306" y="4112">Оплата</text></g>
<g id="n9-35"><text x="306" y="4128">Финал</text></g>
<g id="n10"><text class="b" x="132" y="4260">Настройки</text></g>
<g id="n10-1"><text x="196" y="4190">Уведомления</text></g>
<g id="n10-2"><text x="269" y="4143">Билеты</text></g>
<g id="n10-3"><text x="269" y="4159">Начало матча</text></g>
<g id="n10-4"><text x="269" y="4174">Начало и окончание четвертей</text></g>
<g id="n10-5"><text x="269" y="4190">Результаты игр</text></g>
<g id="n10-6"><text x="269" y="4206">Новости</text></g>
<g id="n10-7"><text x="269" y="4221">Фото</text></g>
<g id="n10-8"><text x="269" y="4237">Видео</text></g>
<g id="n10-9"><text x="196" y="4315">Профиль</text></g>
<g id="n10-10"><text x="256" y="4253">Имя</text></g>
<g id="n10-11"><text x="256" y="4268">Фамилия</text></g>
<g id="n10-12"><text x="256" y="4284">Отчество</text></g>
<g id="n10-13"><text x="256" y="4299">Номер телефона</text></g>
<g id="n10-14"><text x="256" y="4315">Email</text></g>
<g id="n10-15"><text x="256" y="4331">Дата рождения</text></g>
<g id="n10-16"><text x="256" y="4354">Пол</text></g>
<g id="n10-17"><text x="300" y="4346">Мужской</text></g>
<g id="n10-18"><text x="300" y="4362">Женский</text></g>
<g id="n10-19"><text x="256" y="4377">Местоположение</text></g>
</svg>
